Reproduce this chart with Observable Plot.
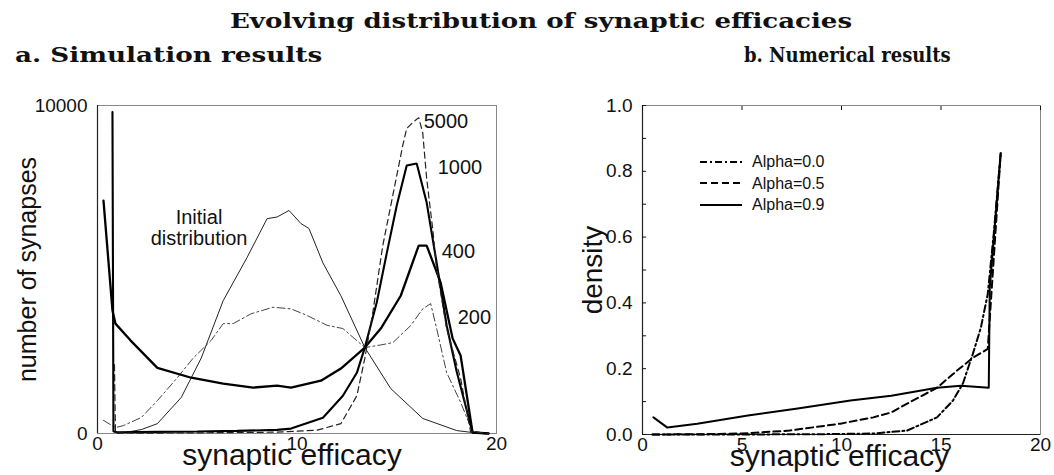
<!DOCTYPE html>
<html><head><meta charset="utf-8">
<script src="https://cdn.jsdelivr.net/npm/d3@7"></script>
<script src="https://cdn.jsdelivr.net/npm/@observablehq/plot@0.6"></script>
<style>
body{margin:0;background:#fff;width:1054px;height:475px;position:relative;overflow:hidden;font-family:"Liberation Sans",Arial,sans-serif;color:#111;}
.t{position:absolute;font-family:"DejaVu Serif",serif;font-weight:bold;white-space:nowrap;color:#111;font-size:21px;line-height:21px;display:inline-block;}
#title{left:541px;top:10px;transform-origin:center;transform:translateX(-50%) scaleX(1.24);}
#ta{left:15px;top:44px;transform-origin:left center;transform:scaleX(1.25);}
#tb{left:744px;top:45px;font-size:20px;transform-origin:left center;transform:scaleX(0.9);}
.panel{position:absolute;top:80px;}
#pa{left:0;} #pb{left:527px;}
#legend{position:absolute;left:700px;top:151px;font-family:"Liberation Sans",Arial,sans-serif;font-size:16px;line-height:21.5px;}
#legend div{display:flex;align-items:center;}
#legend svg{margin-right:10px;}
</style></head>
<body>
<div class="t" id="title">Evolving distribution of synaptic efficacies</div>
<div class="t" id="ta">a. Simulation results</div>
<div class="t" id="tb">b. Numerical results</div>
<div class="panel" id="pa"></div>
<div class="panel" id="pb"></div>
<div id="legend"></div>
<script>
// ---- Panel a: simulation results (number of synapses vs synaptic efficacy)
const initialX = [1.0, 1.3, 2.2, 3.0, 4.2, 5.2, 6.3, 7.5, 8.5, 9.0, 9.6, 10.2, 10.6, 11.3, 12.2, 13.4, 14.7, 16.3, 18.0, 18.8, 19.6];
const initialY = [0, 20, 120, 300, 1100, 2300, 4050, 5370, 6550, 6600, 6800, 6400, 6250, 5200, 4200, 2620, 1370, 460, 90, 30, 0];

const t200X = [0.3, 0.9, 1.3, 2.2, 3.0, 4.0, 4.8, 5.7, 6.3, 6.8, 7.7, 8.8, 9.7, 10.5, 11.5, 12.3, 13.4, 14.2, 14.8, 15.7, 16.3, 16.7, 17.0, 17.5, 18.2, 18.8, 19.6];
const t200Y = [400, 180, 240, 490, 1000, 1700, 2300, 2840, 3350, 3350, 3650, 3850, 3800, 3600, 3300, 3200, 2620, 2700, 2770, 3290, 3800, 3960, 3200, 1860, 950, 60, 0];

const t400X = [0.3, 0.75, 0.9, 1.65, 3.0, 4.7, 6.3, 7.8, 9.0, 9.7, 11.2, 12.2, 13.4, 14.2, 15.2, 16.1, 16.5, 17.2, 17.8, 18.2, 18.8, 19.6];
const t400Y = [7100, 3750, 3350, 2840, 2000, 1700, 1520, 1400, 1460, 1400, 1610, 1980, 2620, 3200, 4200, 5730, 5730, 4600, 2900, 2380, 30, 0];

const t1000X = [0.75, 0.8, 1.0, 3.0, 5.0, 7.0, 9.0, 9.7, 11.3, 12.3, 13.0, 13.4, 14.0, 14.5, 15.0, 15.5, 16.0, 16.5, 17.0, 17.5, 18.0, 18.8, 19.6];
const t1000Y = [9800, 60, 40, 50, 60, 80, 110, 150, 480, 1150, 1850, 2620, 4000, 5500, 6950, 8170, 8230, 7040, 5200, 3300, 1900, 30, 0];

const t5000X = [0.85, 0.9, 2, 5, 9, 11, 12.2, 13.0, 13.4, 13.8, 14.3, 14.8, 15.3, 15.5, 15.8, 16.1, 16.3, 16.5, 16.8, 17.0, 17.5, 18.2, 18.7, 19.6];
const t5000Y = [2100, 20, 10, 20, 40, 100, 300, 1150, 2290, 3690, 5730, 7250, 8780, 9300, 9480, 9630, 9180, 7770, 6250, 5030, 3200, 1680, 60, 0];

const xTicksA = [0, 10, 20];
const yTicksA = [0, 10000];

// ---- Panel b: numerical results (density vs synaptic efficacy)
const a00X = [0.5, 5, 9, 11.6, 13.3, 14.8, 15.6, 16.1, 16.6, 17.0, 17.35, 17.65, 18.0];
const a00Y = [0, 0, 0.001, 0.003, 0.012, 0.052, 0.103, 0.155, 0.245, 0.324, 0.427, 0.61, 0.855];
const a05X = [0.5, 3, 5, 7.4, 9.95, 11.6, 12.5, 13.3, 14.8, 15.8, 16.6, 17.35, 18.0];
const a05Y = [0.0, 0.001, 0.003, 0.012, 0.033, 0.052, 0.067, 0.094, 0.142, 0.194, 0.233, 0.26, 0.855];
const a09X = [0.55, 1.25, 2.75, 5.3, 7.8, 10.45, 12.5, 14.8, 16.0, 17.4, 17.45, 18.0];
const a09Y = [0.052, 0.021, 0.033, 0.058, 0.079, 0.103, 0.118, 0.142, 0.148, 0.142, 0.445, 0.855];

const xTicksB = [0, 5, 10, 15, 20];
const yTicksB = [0, 0.2, 0.4, 0.6, 0.8, 1.0];
const legendLabels = ["Alpha=0.0", "Alpha=0.5", "Alpha=0.9"];

const zip = (xs, ys, s) => xs.map((x, i) => ({x, y: ys[i], s}));

const seriesA = [
  {name: "initial", data: zip(initialX, initialY, "initial"), sw: 1, dash: null, color: "#222"},
  {name: "200", data: zip(t200X, t200Y, "200"), sw: 1, dash: "8,3,2,3", color: "#444"},
  {name: "400", data: zip(t400X, t400Y, "400"), sw: 2.3, dash: null, color: "#000"},
  {name: "1000", data: zip(t1000X, t1000Y, "1000"), sw: 2.1, dash: null, color: "#000"},
  {name: "5000", data: zip(t5000X, t5000Y, "5000"), sw: 1.2, dash: "6,4", color: "#222"}
];
// label offsets (pixels) from each series' late peak
const labelOffsets = {"200": [27, 14], "400": [23, 6], "1000": [21, 4], "5000": [5, 4]};

const fontA = {fontFamily: "Liberation Sans, Arial, sans-serif", background: "transparent", color: "#111", overflow: "visible"};

const plotA = Plot.plot({
  width: 527, height: 395,
  marginLeft: 97, marginRight: 31, marginTop: 25, marginBottom: 42,
  x: {domain: [0, 20]},
  y: {domain: [0, 10000]},
  style: fontA,
  marks: [
    Plot.frame({stroke: "#888", strokeWidth: 1}),
    Plot.ruleX([0], {stroke: "#222", strokeWidth: 1.2}),
    Plot.axisX({ticks: xTicksA, tickSize: 0, tickPadding: 3, fontSize: 19, label: null}),
    Plot.axisY({ticks: yTicksA, tickSize: 0, tickPadding: 10, fontSize: 19, label: null, tickFormat: d3.format("d")}),
    ...seriesA.map(s => Plot.line(s.data, {x: "x", y: "y", stroke: s.color, strokeWidth: s.sw, strokeDasharray: s.dash, strokeLinejoin: "miter"})),
    ...seriesA.filter(s => labelOffsets[s.name]).map(s => Plot.text(s.data.filter(d => d.x > 10), Plot.selectMaxY({x: "x", y: "y", text: () => s.name, textAnchor: "start", dx: labelOffsets[s.name][0], dy: labelOffsets[s.name][1], fontSize: 20}))),
    Plot.text(seriesA[0].data, Plot.selectMaxY({x: "x", y: "y", text: () => "Initial\ndistribution", textAnchor: "middle", dx: -90, dy: 17, fontSize: 20, lineHeight: 1.05})),
    Plot.text(["synaptic efficacy"], {frameAnchor: "bottom", textAnchor: "middle", dy: 31, dx: -5, fontSize: 30}),
    Plot.text(["number of synapses"], {frameAnchor: "left", textAnchor: "middle", rotate: -90, dx: -70, fontSize: 25})
  ]
});
document.getElementById("pa").appendChild(plotA);

const seriesB = [
  {name: legendLabels[0], data: zip(a00X, a00Y, legendLabels[0]), dash: "7,3,2,3"},
  {name: legendLabels[1], data: zip(a05X, a05Y, legendLabels[1]), dash: "7,4"},
  {name: legendLabels[2], data: zip(a09X, a09Y, legendLabels[2]), dash: null}
];

const plotB = Plot.plot({
  width: 527, height: 395,
  marginLeft: 115, marginRight: 14, marginTop: 25, marginBottom: 41,
  x: {domain: [0, 20]},
  y: {domain: [0, 1]},
  style: fontA,
  marks: [
    Plot.frame({stroke: "#888", strokeWidth: 1}),
    Plot.ruleX([0], {stroke: "#222", strokeWidth: 1.2}),
    Plot.ruleY([0], {stroke: "#222", strokeWidth: 1.2}),
    Plot.axisX({ticks: xTicksB, tickSize: 0, tickPadding: 3, fontSize: 19, label: null}),
    Plot.axisX({anchor: "top", ticks: xTicksB, tickSize: -4, tickFormat: () => "", label: null}),
    Plot.axisY({ticks: yTicksB, tickSize: 0, tickPadding: 10, fontSize: 19, label: null, tickFormat: d3.format(".1f")}),
    Plot.axisY({ticks: d3.range(0, 1.0001, 0.1), tickSize: -4, tickFormat: () => "", label: null}),
    ...seriesB.map(s => Plot.line(s.data, {x: "x", y: "y", stroke: "#000", strokeWidth: 2, strokeDasharray: s.dash})),
    Plot.text(["synaptic efficacy"], {frameAnchor: "bottom", textAnchor: "middle", dy: 31, dx: -2, fontSize: 30}),
    Plot.text(["density"], {frameAnchor: "left", textAnchor: "middle", rotate: -90, dx: -49, fontSize: 28})
  ]
});
document.getElementById("pb").appendChild(plotB);

// legend overlay
const leg = document.getElementById("legend");
seriesB.forEach(s => {
  const row = document.createElement("div");
  row.innerHTML = `<svg width="42" height="6"><line x1="0" y1="3" x2="42" y2="3" stroke="#000" stroke-width="1.8" ${s.dash ? `stroke-dasharray="${s.dash}"` : ""}/></svg><span>${s.name}</span>`;
  leg.appendChild(row);
});
</script>
</body></html>
